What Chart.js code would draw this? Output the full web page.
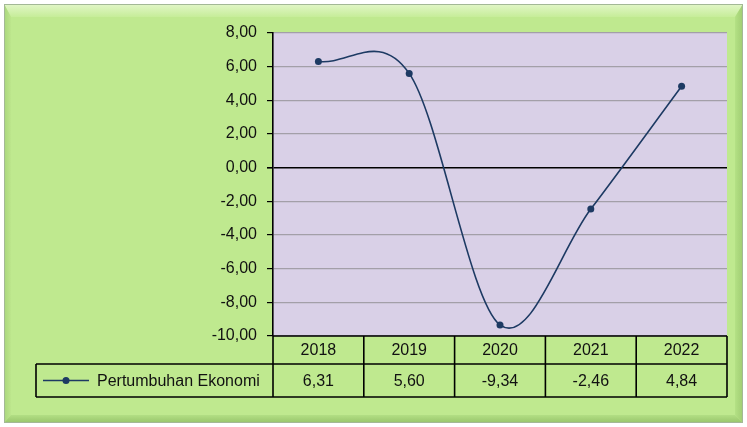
<!DOCTYPE html>
<html>
<head>
<meta charset="utf-8">
<script src="https://cdn.jsdelivr.net/npm/chart.js@4.4.0/dist/chart.umd.min.js"></script>
<style>
  html, body { margin: 0; padding: 0; background: #ffffff; }
  #wrap { width: 747px; height: 427px; }
</style>
</head>
<body>
<div id="wrap"><canvas id="growthChart" width="747" height="427"></canvas></div>
<script>
// data
const years = ['2018', '2019', '2020', '2021', '2022'];
const growth = [6.31, 5.60, -9.34, -2.46, 4.84];
const seriesName = 'Pertumbuhan Ekonomi';
const yMin = -10;
const yMax = 8;
const yStep = 2;

const FONT = '"Liberation Sans", Arial, sans-serif';
const LINE_COLOR = '#1d3a63';

function fmt(v) {
  return v.toFixed(2).replace('.', ',');
}

// bevelled green frame + lavender plot area
const framePlugin = {
  id: 'frame',
  beforeDraw(chart) {
    const c = chart.ctx;
    const x0 = 4, y0 = 4, x1 = 743, y1 = 423;
    const bt = 13, bl = 7, br = 8, bb = 8;
    c.save();
    // face
    c.fillStyle = '#bfe98f';
    c.fillRect(x0, y0, x1 - x0, y1 - y0);
    // top bevel
    let g = c.createLinearGradient(0, y0, 0, y0 + bt);
    g.addColorStop(0, '#e2f6c8');
    g.addColorStop(1, '#c6ed99');
    c.fillStyle = g;
    c.beginPath();
    c.moveTo(x0, y0); c.lineTo(x1, y0); c.lineTo(x1 - br, y0 + bt); c.lineTo(x0 + bl, y0 + bt);
    c.closePath(); c.fill();
    // left bevel
    g = c.createLinearGradient(x0, 0, x0 + bl, 0);
    g.addColorStop(0, '#a9d67c');
    g.addColorStop(1, '#bde68d');
    c.fillStyle = g;
    c.beginPath();
    c.moveTo(x0, y0); c.lineTo(x0 + bl, y0 + bt); c.lineTo(x0 + bl, y1 - bb); c.lineTo(x0, y1);
    c.closePath(); c.fill();
    // right bevel
    g = c.createLinearGradient(x1 - br, 0, x1, 0);
    g.addColorStop(0, '#b4e185');
    g.addColorStop(1, '#9fcc72');
    c.fillStyle = g;
    c.beginPath();
    c.moveTo(x1, y0); c.lineTo(x1, y1); c.lineTo(x1 - br, y1 - bb); c.lineTo(x1 - br, y0 + bt);
    c.closePath(); c.fill();
    // bottom bevel
    g = c.createLinearGradient(0, y1 - bb, 0, y1);
    g.addColorStop(0, '#b2df84');
    g.addColorStop(1, '#98c46b');
    c.fillStyle = g;
    c.beginPath();
    c.moveTo(x0, y1); c.lineTo(x0 + bl, y1 - bb); c.lineTo(x1 - br, y1 - bb); c.lineTo(x1, y1);
    c.closePath(); c.fill();
    // outer edge
    c.strokeStyle = '#a3b896';
    c.lineWidth = 1;
    c.strokeRect(x0 + 0.5, y0 + 0.5, x1 - x0 - 1, y1 - y0 - 1);

    // plot area
    const a = chart.chartArea;
    c.fillStyle = '#d9d0e7';
    c.fillRect(a.left, a.top, a.right - a.left, a.bottom - a.top);
    c.restore();
  }
};

// spreadsheet-style smoothing: uniform Catmull-Rom, control offsets = (next - prev) / 6
const smoothPlugin = {
  id: 'uniformSmooth',
  beforeDatasetsDraw(chart) {
    chart.data.datasets.forEach((ds, di) => {
      const meta = chart.getDatasetMeta(di);
      const line = meta.dataset;
      const pts = meta.data;
      if (!line || pts.length < 2) return;
      line.updateControlPoints(chart.chartArea);
      const n = pts.length;
      for (let i = 0; i < n; i++) {
        const prev = pts[Math.max(i - 1, 0)];
        const next = pts[Math.min(i + 1, n - 1)];
        const cur = pts[i];
        const k = (i === 0 || i === n - 1) ? 1 / 3 : 1 / 6;
        const dx = (next.x - prev.x) * k;
        const dy = (next.y - prev.y) * k;
        cur.cp1x = cur.x - dx;
        cur.cp1y = cur.y - dy;
        cur.cp2x = cur.x + dx;
        cur.cp2y = cur.y + dy;
      }
    });
  }
};

// data table under the plot: years row, then legend key + values row
const tablePlugin = {
  id: 'dataTable',
  afterDraw(chart) {
    const c = chart.ctx;
    const a = chart.chartArea;
    const xs = chart.scales.x;
    const rowH1 = 28, rowH2 = 33;
    const top = a.bottom;
    const mid = top + rowH1;
    const bot = mid + rowH2;
    const legLeft = 36;
    const colW = (a.right - a.left) / years.length;

    c.save();
    c.strokeStyle = '#000000';
    c.lineWidth = 1.6;
    c.beginPath();
    c.moveTo(a.left, top); c.lineTo(a.right, top);
    c.moveTo(legLeft, mid); c.lineTo(a.right, mid);
    c.moveTo(legLeft, bot); c.lineTo(a.right, bot);
    c.moveTo(legLeft, mid); c.lineTo(legLeft, bot);
    for (let i = 0; i <= years.length; i++) {
      const x = a.left + i * colW;
      c.moveTo(x, top); c.lineTo(x, bot);
    }
    c.stroke();

    c.fillStyle = '#111111';
    c.font = '16px ' + FONT;
    c.textAlign = 'center';
    c.textBaseline = 'middle';
    years.forEach((yr, i) => {
      const cx = xs.getPixelForValue(i);
      c.fillText(yr, cx, top + rowH1 / 2 + 1);
      c.fillText(fmt(growth[i]), cx, mid + rowH2 / 2 + 1);
    });

    // legend key
    const ky = mid + rowH2 / 2;
    c.strokeStyle = LINE_COLOR;
    c.lineWidth = 1.6;
    c.beginPath();
    c.moveTo(43, ky); c.lineTo(89, ky);
    c.stroke();
    c.fillStyle = LINE_COLOR;
    c.beginPath();
    c.arc(66, ky, 3.5, 0, Math.PI * 2);
    c.fill();
    c.fillStyle = '#111111';
    c.textAlign = 'left';
    c.fillText(seriesName, 97, ky + 1);
    c.restore();
  }
};

const ctx = document.getElementById('growthChart').getContext('2d');
new Chart(ctx, {
  type: 'line',
  data: {
    labels: years,
    datasets: [{
      label: seriesName,
      data: growth,
      borderColor: LINE_COLOR,
      backgroundColor: LINE_COLOR,
      borderWidth: 1.6,
      pointRadius: 3.5,
      pointBorderWidth: 0,
      pointBackgroundColor: LINE_COLOR,
      tension: 0.5,
      fill: false
    }]
  },
  options: {
    responsive: false,
    animation: false,
    events: [],
    layout: {
      padding: { left: 0, top: 33, right: 20, bottom: 91 }
    },
    plugins: {
      legend: { display: false },
      tooltip: { enabled: false }
    },
    scales: {
      x: {
        type: 'category',
        display: false,
        offset: true
      },
      y: {
        min: yMin,
        max: yMax,
        afterFit(scale) { scale.width = 273; },
        afterBuildTicks(scale) {
          const t = [];
          for (let v = yMin; v <= yMax; v += yStep) t.push({ value: v });
          scale.ticks = t;
        },
        border: { display: true, color: '#000000', width: 1.6 },
        grid: {
          color: (c) => (c.tick && c.tick.value === 0 ? '#000000' : '#a39fa8'),
          lineWidth: (c) => (c.tick && c.tick.value === 0 ? 1.6 : 1.2),
          tickColor: '#000000',
          tickLength: 6
        },
        ticks: {
          padding: 10,
          color: '#111111',
          font: { family: FONT, size: 16 },
          callback: (v) => fmt(v)
        }
      }
    }
  },
  plugins: [framePlugin, smoothPlugin, tablePlugin]
});
</script>
</body>
</html>
